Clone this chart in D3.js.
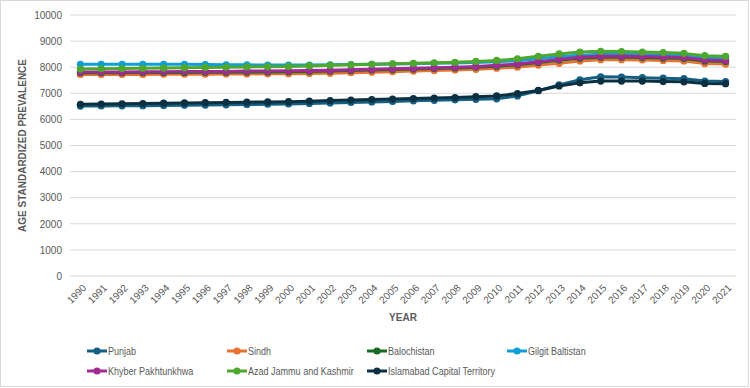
<!DOCTYPE html>
<html>
<head>
<meta charset="utf-8">
<script src="https://cdn.jsdelivr.net/npm/d3@7"></script>
<style>
  body { margin: 0; background: #fff; }
  svg text { font-family: "Liberation Sans", Roboto, sans-serif; fill: #595959; }
</style>
</head>
<body>
<svg id="chart" width="750" height="388"></svg>
<script>
// ---- data ----
const years = d3.range(1990, 2022).map(String);
const yTicks = [0, 1000, 2000, 3000, 4000, 5000, 6000, 7000, 8000, 9000, 10000];

const punjab = [6510, 6515, 6520, 6525, 6530, 6540, 6550, 6560, 6570, 6580,
  6590, 6610, 6630, 6650, 6670, 6690, 6710, 6730, 6750, 6770,
  6790, 6900, 7100, 7320, 7520, 7630, 7620, 7600, 7580, 7560, 7470, 7450];
const sindh = [7720, 7720, 7720, 7720, 7730, 7730, 7730, 7740, 7740, 7750,
  7750, 7760, 7770, 7790, 7810, 7830, 7850, 7870, 7890, 7920,
  7960, 8000, 8080, 8150, 8240, 8290, 8290, 8280, 8260, 8240, 8140, 8120];
const balochistan = [7790, 7790, 7790, 7800, 7800, 7800, 7810, 7810, 7820, 7820,
  7830, 7840, 7850, 7870, 7890, 7910, 7930, 7950, 7970, 8000,
  8040, 8090, 8180, 8270, 8340, 8380, 8380, 8370, 8350, 8330, 8240, 8220];
const gilgit = [8110, 8110, 8110, 8110, 8110, 8110, 8100, 8090, 8090, 8080,
  8080, 8080, 8090, 8100, 8110, 8120, 8130, 8150, 8160, 8180,
  8210, 8250, 8320, 8400, 8460, 8500, 8500, 8490, 8470, 8450, 8370, 8350];
const khyber = [7820, 7820, 7820, 7830, 7830, 7840, 7840, 7840, 7850, 7850,
  7860, 7870, 7880, 7900, 7920, 7940, 7960, 7980, 8000, 8030,
  8070, 8120, 8210, 8300, 8380, 8420, 8420, 8410, 8390, 8370, 8280, 8260];
const ajk = [7930, 7940, 7950, 7960, 7970, 7980, 7990, 8000, 8010, 8020,
  8030, 8050, 8070, 8090, 8110, 8130, 8150, 8170, 8190, 8220,
  8260, 8320, 8420, 8510, 8580, 8610, 8600, 8580, 8560, 8530, 8440, 8420];
const islamabad = [6580, 6590, 6600, 6610, 6620, 6630, 6640, 6650, 6660, 6670,
  6680, 6700, 6720, 6740, 6760, 6780, 6800, 6820, 6840, 6870,
  6900, 6990, 7110, 7280, 7400, 7470, 7470, 7470, 7450, 7440, 7380, 7370];

const seriesNames = ["Punjab", "Sindh", "Balochistan", "Gilgit Baltistan",
  "Khyber Pakhtunkhwa", "Azad Jammu and Kashmir", "Islamabad Capital Territory"];
const seriesValues = [punjab, sindh, balochistan, gilgit, khyber, ajk, islamabad];
const colors = ["#156082", "#e97132", "#196b24", "#0f9ed5", "#a02b93", "#4ea72e", "#0b3041"];

// ---- layout ----
const svg = d3.select("#chart");
const plotL = 70, plotR = 736, plotT = 15, plotB = 276;

svg.append("rect")
  .attr("x", 0.5).attr("y", 0.5)
  .attr("width", 748).attr("height", 386)
  .attr("fill", "#fff").attr("stroke", "#d9d9d9");

const x = d3.scaleBand().domain(years).range([plotL, plotR]);
const y = d3.scaleLinear().domain([0, 10000]).range([plotB, plotT]);

// gridlines
svg.append("g")
  .selectAll("line")
  .data(yTicks)
  .join("line")
  .attr("x1", plotL).attr("x2", plotR)
  .attr("y1", d => y(d)).attr("y2", d => y(d))
  .attr("stroke", "#d9d9d9").attr("stroke-width", 1);

// y axis labels
const yAxis = d3.axisLeft(y).tickValues(yTicks).tickFormat(d3.format("d")).tickSize(0).tickPadding(8);
const gy = svg.append("g").attr("transform", `translate(${plotL},0)`).call(yAxis);
gy.select(".domain").remove();
gy.selectAll("text").style("font-size", "10px").attr("fill", "#595959").attr("x", -8);

// x axis labels
const xAxis = d3.axisBottom(x).tickSize(0);
const gx = svg.append("g").attr("transform", `translate(0,${plotB})`).call(xAxis);
gx.select(".domain").remove();
gx.selectAll("text")
  .style("font-size", "10px")
  .attr("fill", "#595959")
  .attr("text-anchor", "end")
  .attr("dy", "0.35em")
  .attr("y", 0)
  .attr("transform", "translate(4,10) rotate(-45)");

// axis titles
svg.append("text")
  .attr("x", (plotL + plotR) / 2).attr("y", 321)
  .attr("text-anchor", "middle")
  .style("font-size", "10px").style("font-weight", "bold")
  .text("YEAR");

svg.append("text")
  .attr("transform", `translate(26,${(plotT + plotB) / 2}) rotate(-90)`)
  .attr("text-anchor", "middle")
  .style("font-size", "10px").style("font-weight", "bold")
  .text("AGE STANDARDIZED PREVALENCE");

// series
const line = d3.line()
  .x((d, i) => x(years[i]) + x.bandwidth() / 2)
  .y(d => y(d));

seriesValues.forEach((vals, k) => {
  const g = svg.append("g");
  g.append("path")
    .datum(vals)
    .attr("d", line)
    .attr("fill", "none")
    .attr("stroke", colors[k])
    .attr("stroke-width", 3)
    .attr("stroke-linejoin", "round");
  g.selectAll("circle")
    .data(vals)
    .join("circle")
    .attr("cx", (d, i) => x(years[i]) + x.bandwidth() / 2)
    .attr("cy", d => y(d))
    .attr("r", 3.6)
    .attr("fill", colors[k]);
});

// legend (text squeezed a little to mimic the narrow Office font)
const legend = svg.append("g").attr("class", "legend");
seriesNames.forEach((name, k) => {
  const col = k < 4 ? k : k - 4;
  const row = k < 4 ? 0 : 1;
  const lx = 87 + col * 140;
  const ly = 351 + row * 20;
  const item = legend.append("g").attr("transform", `translate(${lx},${ly})`);
  item.append("line")
    .attr("x1", 0).attr("x2", 20)
    .attr("stroke", colors[k]).attr("stroke-width", 3);
  item.append("circle").attr("cx", 10).attr("r", 3.6).attr("fill", colors[k]);
  item.append("text")
    .attr("transform", "translate(21,0) scale(0.86,1)")
    .attr("dy", "0.35em")
    .style("font-size", "10.5px")
    .text(name);
});
</script>
</body>
</html>
